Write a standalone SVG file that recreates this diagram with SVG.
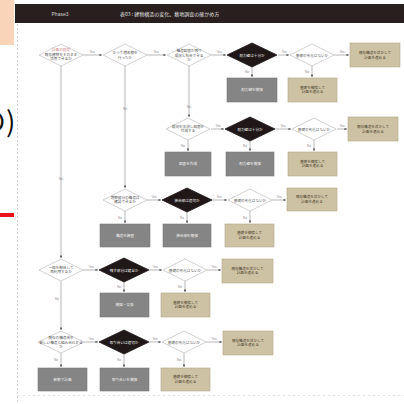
<svg xmlns="http://www.w3.org/2000/svg" width="404" height="404" viewBox="0 0 404 404">
  <defs>
    <marker id="arr" viewBox="0 0 6 6" refX="5.5" refY="3" markerWidth="4" markerHeight="4" orient="auto">
      <path d="M0,0 L6,3 L0,6 Z" fill="#666"/>
    </marker>
    <style>
      .q { fill: #ffffff; stroke: #c4c4c4; stroke-width: 0.8; }
      .k { fill: #201818; stroke: #201818; stroke-width: 0.8; }
      .g { fill: #858585; stroke: #7a7a7a; stroke-width: 0.6; }
      .t { fill: #cdc2a4; stroke: #b3a786; stroke-width: 0.6; }
      .c { stroke: #9a9a9a; stroke-width: 0.7; fill: none; marker-end: url(#arr); }
      .tx { font-family: "Noto Sans CJK JP", "Noto Sans", sans-serif; font-size: 3.6px; text-anchor: middle; }
      .dk { fill: #555; }
      .wt { fill: #f2f2f2; }
      .br { fill: #4a3f2c; }
      .lb { font-family: "Liberation Sans", sans-serif; font-size: 3.2px; fill: #888; text-anchor: middle; }
    </style>
  </defs>

  <rect width="404" height="404" fill="#ffffff"/>

  <!-- page frame -->
  <line x1="17.5" y1="24" x2="17.5" y2="404" stroke="#c8c8c8" stroke-width="0.8" stroke-dasharray="2,2"/>
  <line x1="18" y1="395.5" x2="404" y2="395.5" stroke="#dddddd" stroke-width="0.8" stroke-dasharray="2,3"/>

  <!-- title bar -->
  <rect x="15" y="4" width="389" height="19" fill="#2a1f1f"/>
  <text x="60" y="15.5" font-family="Liberation Sans, sans-serif" font-size="5" fill="#cfcfcf" text-anchor="middle">Phase3</text>
  <text x="120" y="15.5" font-family="Noto Sans CJK JP, sans-serif" font-size="5" fill="#e0e0e0">表03 : 建物構造の変化、敷地調査の確かめ方</text>

  <!-- side marks -->
  <rect x="0" y="0" width="14" height="45" fill="#f9d4b8"/>
  <text x="-22" y="132" font-family="Noto Sans CJK JP, sans-serif" font-size="28" fill="#111">の)</text>
  <rect x="0" y="213" width="14" height="4" fill="#e8141a"/>

  <!-- connectors -->
  <g id="connectors">
    <!-- row 1 -->
    <line class="c" x1="83" y1="55" x2="102" y2="55"/>
    <line class="c" x1="147" y1="55" x2="166" y2="55"/>
    <line class="c" x1="211" y1="55" x2="226" y2="55"/>
    <line class="c" x1="278" y1="55" x2="289" y2="55"/>
    <line class="c" x1="334" y1="55" x2="349" y2="55"/>
    <line class="c" x1="252" y1="67" x2="252" y2="77"/>
    <line class="c" x1="312" y1="66" x2="312" y2="77"/>
    <!-- verticals from row 1 -->
    <line class="c" x1="61" y1="66" x2="61" y2="258"/>
    <line class="c" x1="125" y1="66" x2="125" y2="188"/>
    <line class="c" x1="189" y1="66" x2="189" y2="117"/>
    <!-- row 2 -->
    <line class="c" x1="211" y1="129" x2="224" y2="129"/>
    <line class="c" x1="275" y1="129" x2="291" y2="129"/>
    <line class="c" x1="337" y1="129" x2="347" y2="129"/>
    <line class="c" x1="188" y1="140" x2="188" y2="151"/>
    <line class="c" x1="250" y1="141" x2="250" y2="151"/>
    <line class="c" x1="314" y1="140" x2="314" y2="151"/>
    <!-- row 3 -->
    <line class="c" x1="147" y1="200" x2="161" y2="200"/>
    <line class="c" x1="212" y1="200" x2="227" y2="200"/>
    <line class="c" x1="272" y1="200" x2="286" y2="200"/>
    <line class="c" x1="125" y1="211" x2="125" y2="223"/>
    <line class="c" x1="187" y1="212" x2="187" y2="223"/>
    <line class="c" x1="250" y1="211" x2="250" y2="223"/>
    <!-- row 4 -->
    <line class="c" x1="83" y1="270" x2="98" y2="270"/>
    <line class="c" x1="149" y1="270" x2="162" y2="270"/>
    <line class="c" x1="207" y1="270" x2="221" y2="270"/>
    <line class="c" x1="124" y1="282" x2="124" y2="292"/>
    <line class="c" x1="185" y1="281" x2="185" y2="292"/>
    <line class="c" x1="61" y1="281" x2="61" y2="330"/>
    <!-- row 5 -->
    <line class="c" x1="84" y1="342" x2="98" y2="342"/>
    <line class="c" x1="149" y1="342" x2="161" y2="342"/>
    <line class="c" x1="206" y1="342" x2="222" y2="342"/>
    <line class="c" x1="61" y1="353" x2="61" y2="367"/>
    <line class="c" x1="124" y1="354" x2="124" y2="367"/>
    <line class="c" x1="184" y1="353" x2="184" y2="367"/>

    <!-- branch labels -->
    <text class="lb" x="92" y="53">Yes</text>
    <text class="lb" x="156" y="53">Yes</text>
    <text class="lb" x="219" y="53">Yes</text>
    <text class="lb" x="284" y="53">Yes</text>
    <text class="lb" x="342" y="53">Yes</text>
    <text class="lb" x="247" y="73">No</text>
    <text class="lb" x="307" y="73">No</text>
    <text class="lb" x="125" y="110">No</text>
    <text class="lb" x="189" y="108">No</text>
    <text class="lb" x="61" y="180">No</text>
    <text class="lb" x="218" y="127">Yes</text>
    <text class="lb" x="283" y="127">Yes</text>
    <text class="lb" x="342" y="127">Yes</text>
    <text class="lb" x="183" y="147">No</text>
    <text class="lb" x="245" y="147">No</text>
    <text class="lb" x="309" y="147">No</text>
    <text class="lb" x="154" y="198">Yes</text>
    <text class="lb" x="219" y="198">Yes</text>
    <text class="lb" x="279" y="198">Yes</text>
    <text class="lb" x="120" y="219">No</text>
    <text class="lb" x="182" y="219">No</text>
    <text class="lb" x="245" y="219">No</text>
    <text class="lb" x="91" y="268">Yes</text>
    <text class="lb" x="155" y="268">Yes</text>
    <text class="lb" x="214" y="268">Yes</text>
    <text class="lb" x="119" y="288">No</text>
    <text class="lb" x="180" y="288">No</text>
    <text class="lb" x="57" y="300">No</text>
    <text class="lb" x="91" y="340">Yes</text>
    <text class="lb" x="155" y="340">Yes</text>
    <text class="lb" x="214" y="340">Yes</text>
    <text class="lb" x="56" y="361">No</text>
    <text class="lb" x="119" y="361">No</text>
    <text class="lb" x="179" y="361">No</text>
  </g>

  <!-- row 1 -->
  <g id="q1"><polygon class="q" points="39,55 61,44 83,55 61,66"/>
    <text class="tx" x="61" y="51" fill="#d07a86">計画の前提</text>
    <text class="tx dk" x="61" y="55.5">既存建物をそのまま</text>
    <text class="tx dk" x="61" y="60">活用できるか</text></g>
  <g id="q2"><polygon class="q" points="103,55 125,44 147,55 125,66"/>
    <text class="tx dk" x="125" y="54">かつて増改築を</text>
    <text class="tx dk" x="125" y="58.5">行ったか</text></g>
  <g id="q3"><polygon class="q" points="167,55 189,44 211,55 189,66"/>
    <text class="tx dk" x="189" y="52">構造図面が残り</text>
    <text class="tx dk" x="189" y="56.5">現況と照合できる</text>
    <text class="tx dk" x="189" y="61">か</text></g>
  <g id="k1"><polygon class="k" points="227,55 252,43 277,55 252,67"/>
    <text class="tx wt" x="252" y="56.5">耐力壁は十分か</text></g>
  <g id="q4"><polygon class="q" points="290,55 312,44 334,55 312,66"/>
    <text class="tx dk" x="312" y="56.5">基礎の劣化はないか</text></g>
  <g id="t1"><rect class="t" x="350" y="43" width="50" height="24"/>
    <text class="tx br" x="375" y="54">既存構造を活かして</text>
    <text class="tx br" x="375" y="58.5">計画を進める</text></g>
  <g id="g1"><rect class="g" x="227" y="78" width="50" height="24"/>
    <text class="tx wt" x="252" y="91">耐力壁を補強</text></g>
  <g id="t2"><rect class="t" x="288" y="78" width="49" height="24"/>
    <text class="tx br" x="312.5" y="88.5">基礎を補修して</text>
    <text class="tx br" x="312.5" y="93">計画を進める</text></g>

  <!-- row 2 -->
  <g id="q5"><polygon class="q" points="166,129 188,118 210,129 188,140"/>
    <text class="tx dk" x="188" y="127.5">現況を実測し図面を</text>
    <text class="tx dk" x="188" y="132">作成する</text></g>
  <g id="k2"><polygon class="k" points="225,129 250,117 275,129 250,141"/>
    <text class="tx wt" x="250" y="130.5">耐力壁は十分か</text></g>
  <g id="q6"><polygon class="q" points="292,129 314,118 336,129 314,140"/>
    <text class="tx dk" x="314" y="130.5">基礎の劣化はないか</text></g>
  <g id="t3"><rect class="t" x="348" y="117" width="50" height="24"/>
    <text class="tx br" x="373" y="128">既存構造を活かして</text>
    <text class="tx br" x="373" y="132.5">計画を進める</text></g>
  <g id="g2"><rect class="g" x="165" y="152" width="46" height="24"/>
    <text class="tx wt" x="188" y="165">図面を作成</text></g>
  <g id="g3"><rect class="g" x="226" y="152" width="48" height="24"/>
    <text class="tx wt" x="250" y="165">耐力壁を補強</text></g>
  <g id="t4"><rect class="t" x="288" y="152" width="49" height="24"/>
    <text class="tx br" x="312.5" y="162.5">基礎を補修して</text>
    <text class="tx br" x="312.5" y="167">計画を進める</text></g>

  <!-- row 3 -->
  <g id="q7"><polygon class="q" points="103,200 125,189 147,200 125,211"/>
    <text class="tx dk" x="125" y="198.5">増築部分の構造は</text>
    <text class="tx dk" x="125" y="203">確認できるか</text></g>
  <g id="k3"><polygon class="k" points="162,200 187,188 212,200 187,212"/>
    <text class="tx wt" x="187" y="201.5">接合部は適切か</text></g>
  <g id="q8"><polygon class="q" points="228,200 250,189 272,200 250,211"/>
    <text class="tx dk" x="250" y="201.5">基礎の劣化はないか</text></g>
  <g id="t5"><rect class="t" x="287" y="188" width="50" height="23"/>
    <text class="tx br" x="312" y="198">既存構造を活かして</text>
    <text class="tx br" x="312" y="202.5">計画を進める</text></g>
  <g id="g4"><rect class="g" x="100" y="224" width="50" height="23"/>
    <text class="tx wt" x="125" y="236.5">構造を調査</text></g>
  <g id="g5"><rect class="g" x="163" y="224" width="48" height="23"/>
    <text class="tx wt" x="187" y="236.5">接合部を補強</text></g>
  <g id="t6"><rect class="t" x="225" y="224" width="49" height="23"/>
    <text class="tx br" x="249.5" y="234">基礎を補修して</text>
    <text class="tx br" x="249.5" y="238.5">計画を進める</text></g>

  <!-- row 4 -->
  <g id="q9"><polygon class="q" points="39,270 61,259 83,270 61,281"/>
    <text class="tx dk" x="61" y="268.5">一部を解体して</text>
    <text class="tx dk" x="61" y="273">再利用するか</text></g>
  <g id="k4"><polygon class="k" points="99,270 124,258 149,270 124,282"/>
    <text class="tx wt" x="124" y="271.5">残す部分は健全か</text></g>
  <g id="q10"><polygon class="q" points="163,270 185,259 207,270 185,281"/>
    <text class="tx dk" x="185" y="271.5">基礎の劣化はないか</text></g>
  <g id="t7"><rect class="t" x="222" y="259" width="51" height="24"/>
    <text class="tx br" x="247.5" y="269.5">既存構造を活かして</text>
    <text class="tx br" x="247.5" y="274">計画を進める</text></g>
  <g id="g6"><rect class="g" x="100" y="293" width="49" height="24"/>
    <text class="tx wt" x="124.5" y="306">補強・交換</text></g>
  <g id="t8"><rect class="t" x="161" y="293" width="49" height="24"/>
    <text class="tx br" x="185.5" y="303.5">基礎を補修して</text>
    <text class="tx br" x="185.5" y="308">計画を進める</text></g>

  <!-- row 5 -->
  <g id="q11"><polygon class="q" points="38,342 61,331 84,342 61,353"/>
    <text class="tx dk" x="61" y="339">既存の構造体を</text>
    <text class="tx dk" x="61" y="343.5">新しい構造と組み合わせる</text>
    <text class="tx dk" x="61" y="348">か</text></g>
  <g id="k5"><polygon class="k" points="99,342 124,330 149,342 124,354"/>
    <text class="tx wt" x="124" y="343.5">取り合いは適切か</text></g>
  <g id="q12"><polygon class="q" points="162,342 184,331 206,342 184,353"/>
    <text class="tx dk" x="184" y="343.5">基礎の劣化はないか</text></g>
  <g id="t9"><rect class="t" x="223" y="331" width="50" height="24"/>
    <text class="tx br" x="248" y="341.5">既存構造を活かして</text>
    <text class="tx br" x="248" y="346">計画を進める</text></g>
  <g id="g7"><rect class="g" x="38" y="368" width="49" height="23"/>
    <text class="tx wt" x="62.5" y="380.5">新築で計画</text></g>
  <g id="g8"><rect class="g" x="100" y="368" width="49" height="23"/>
    <text class="tx wt" x="124.5" y="380.5">取り合いを補強</text></g>
  <g id="t10"><rect class="t" x="161" y="368" width="49" height="23"/>
    <text class="tx br" x="185.5" y="378">基礎を補修して</text>
    <text class="tx br" x="185.5" y="382.5">計画を進める</text></g>
</svg>
